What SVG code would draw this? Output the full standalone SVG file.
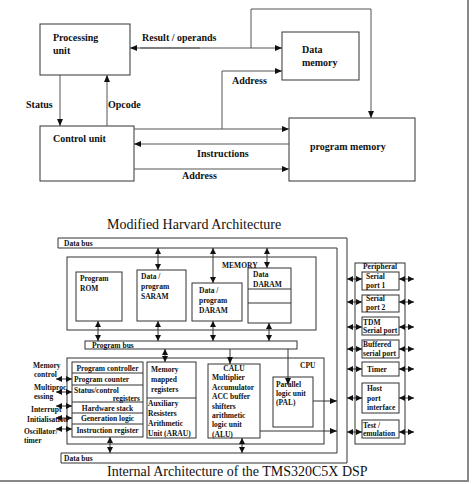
<svg xmlns="http://www.w3.org/2000/svg" width="472" height="484" viewBox="0 0 472 484">
<style>
.box{fill:#fff;stroke:#333;stroke-width:1}
.nb{fill:none;stroke:#333;stroke-width:1}
.ln{fill:none;stroke:#555;stroke-width:1}
.t{font-family:"Liberation Serif",serif;font-weight:bold;font-size:10px;fill:#111}
.s{font-family:"Liberation Serif",serif;font-weight:bold;font-size:7.5px;fill:#111}
.ttl{font-family:"Liberation Serif",serif;font-size:14px;fill:#111}
.a{marker-end:url(#ah)}
.d{marker-start:url(#sh);marker-end:url(#sh)}
</style>
<defs>
<marker id="ah" markerUnits="userSpaceOnUse" markerWidth="7" markerHeight="6" refX="7" refY="3" orient="auto"><path d="M0,0 L7,3 L0,6 z" fill="#111"/></marker>
<marker id="sh" markerUnits="userSpaceOnUse" markerWidth="6" markerHeight="6" refX="6" refY="3" orient="auto-start-reverse"><path d="M0,0 L6,3 L0,6 z" fill="#111"/></marker>
</defs>
<rect width="472" height="484" fill="#fff"/>
<path d="M468,0 V481 H0" fill="none" stroke="#888" stroke-width="2"/>

<!-- Top diagram -->
<g id="processing-unit"><rect class="box" x="40" y="24" width="90" height="51"/><text class="t" x="53" y="41">Processing</text><text class="t" x="53" y="54">unit</text></g>
<g id="data-memory"><rect class="box" x="282" y="32" width="77" height="48"/><text class="t" x="302" y="53">Data</text><text class="t" x="302" y="66">memory</text></g>
<g id="control-unit"><rect class="box" x="40" y="126" width="94" height="55"/><text class="t" x="53" y="142">Control unit</text></g>
<g id="program-memory"><rect class="box" x="289" y="118" width="126" height="63"/><text class="t" x="310" y="150">program memory</text></g>

<g id="top-connectors">
<line class="ln a" x1="140" y1="48" x2="282" y2="48"/>
<line class="ln a" x1="200" y1="48" x2="130" y2="48"/>
<path class="ln a" d="M251,48 V9 H371 V118"/>
<path class="ln a" d="M222,129 V71 H282"/>
<line class="ln a" x1="134" y1="129" x2="289" y2="129"/>
<line class="ln a" x1="289" y1="144" x2="134" y2="144"/>
<line class="ln a" x1="134" y1="169" x2="289" y2="169"/>
<line class="ln a" x1="60" y1="75" x2="60" y2="126"/>
<line class="ln a" x1="107" y1="126" x2="107" y2="75"/>
<text class="t" x="142" y="41">Result / operands</text>
<text class="t" x="232" y="84">Address</text>
<text class="t" x="197" y="157">Instructions</text>
<text class="t" x="182" y="179">Address</text>
<text class="t" x="26" y="108">Status</text>
<text class="t" x="108" y="108">Opcode</text>
</g>

<text class="ttl" x="107" y="229">Modified Harvard Architecture</text>

<!-- Lower diagram -->
<g id="data-bus"><path class="box" d="M58,238 H347 V463 H61 V453 H337 V248 H58 Z"/><text class="s" x="64" y="246">Data bus</text><text class="s" x="64" y="461">Data bus</text></g>

<g id="memory"><rect class="box" x="67" y="257" width="249" height="73"/><text class="s" x="222" y="268">MEMORY</text></g>
<g id="program-rom"><rect class="box" x="76" y="272" width="46" height="49"/><text class="s" x="80" y="281">Program</text><text class="s" x="80" y="291">ROM</text></g>
<g id="saram"><rect class="box" x="137" y="270" width="49" height="51"/><text class="s" x="141" y="279">Data /</text><text class="s" x="141" y="289">program</text><text class="s" x="141" y="299">SARAM</text></g>
<g id="daram1"><rect class="box" x="192" y="283" width="50" height="38"/><text class="s" x="199" y="293">Data /</text><text class="s" x="199" y="303">program</text><text class="s" x="199" y="313">DARAM</text></g>
<g id="daram2"><rect class="box" x="248" y="268" width="43" height="55"/><line class="nb" x1="248" y1="289" x2="291" y2="289"/><line class="nb" x1="248" y1="303" x2="291" y2="303"/><text class="s" x="253" y="277">Data</text><text class="s" x="253" y="287">DARAM</text></g>

<g id="program-bus"><rect class="box" x="85" y="341" width="212" height="8"/><text class="s" x="92" y="348">Program bus</text></g>

<g id="cpu"><rect class="box" x="67" y="358" width="257" height="86"/><text class="s" x="300" y="368">CPU</text></g>
<g id="control-block"><rect class="box" x="72" y="362" width="71" height="75"/>
<line class="nb" x1="72" y1="373" x2="143" y2="373"/><line class="nb" x1="72" y1="385" x2="143" y2="385"/><line class="nb" x1="72" y1="402" x2="143" y2="402" stroke-width="1.5"/><line class="nb" x1="72" y1="413" x2="143" y2="413"/><line class="nb" x1="72" y1="424" x2="143" y2="424"/>
<text class="s" x="107.5" y="371" text-anchor="middle">Program controller</text>
<text class="s" x="74" y="382">Program counter</text>
<text class="s" x="74" y="393">Status/control</text>
<text class="s" x="140" y="401" text-anchor="end">registers</text>
<text class="s" x="107.5" y="411" text-anchor="middle">Hardware stack</text>
<text class="s" x="107.5" y="421" text-anchor="middle">Generation logic</text>
<text class="s" x="107.5" y="433" text-anchor="middle">Instruction register</text>
</g>
<g id="arau"><rect class="box" x="147" y="362" width="49" height="76"/><line class="nb" x1="147" y1="398" x2="196" y2="398"/>
<text class="s" x="151" y="372">Memory</text><text class="s" x="151" y="382">mapped</text><text class="s" x="151" y="392">registers</text>
<text class="s" x="148" y="406">Auxiliary</text><text class="s" x="148" y="416">Resisters</text><text class="s" x="148" y="426">Arithmetic</text><text class="s" x="148" y="436">Unit (ARAU)</text></g>
<g id="calu"><rect class="box" x="208" y="364" width="52" height="74"/>
<text class="s" x="234" y="371" text-anchor="middle">CALU</text><text class="s" x="212" y="380">Multiplier</text><text class="s" x="212" y="390">Accumulator</text><text class="s" x="212" y="399">ACC buffer</text><text class="s" x="212" y="409">shifters</text><text class="s" x="212" y="418">arithmetic</text><text class="s" x="212" y="427">logic unit</text><text class="s" x="212" y="437">(ALU)</text></g>
<g id="pal"><rect class="box" x="273" y="377" width="40" height="50"/><text class="s" x="276" y="387">Parallel</text><text class="s" x="276" y="396">logic unit</text><text class="s" x="276" y="405">(PAL)</text></g>

<g id="peripheral"><rect class="box" x="355" y="263" width="50" height="181"/><text class="s" x="363" y="269">Peripheral</text></g>
<g id="sp1"><rect class="box" x="362" y="272" width="37" height="18"/><text class="s" x="366" y="279">Serial</text><text class="s" x="366" y="288">port 1</text></g>
<g id="sp2"><rect class="box" x="362" y="295" width="37" height="17"/><text class="s" x="366" y="301">Serial</text><text class="s" x="366" y="310">port 2</text></g>
<g id="tdm"><rect class="box" x="362" y="317" width="37" height="18"/><text class="s" x="363" y="325">TDM</text><text class="s" x="363" y="333">Serial port</text></g>
<g id="bsp"><rect class="box" x="362" y="340" width="37" height="18"/><text class="s" x="363" y="347">Buffered</text><text class="s" x="363" y="356">serial port</text></g>
<g id="timer"><rect class="box" x="362" y="362" width="37" height="14"/><text class="s" x="367" y="372">Timer</text></g>
<g id="hpi"><rect class="box" x="362" y="383" width="37" height="30"/><text class="s" x="367" y="391">Host</text><text class="s" x="367" y="401">port</text><text class="s" x="367" y="410">interface</text></g>
<g id="test"><rect class="box" x="362" y="420" width="37" height="18"/><text class="s" x="363" y="428">Test /</text><text class="s" x="363" y="436">emulation</text></g>

<g id="side-labels">
<text class="s" x="33" y="368">Memory</text><text class="s" x="34" y="377">control</text>
<text class="s" x="34" y="390">Multiproc</text><text class="s" x="34" y="399">essing</text>
<text class="s" x="31" y="412">Interrupt</text>
<text class="s" x="27" y="422">Initialisation</text>
<text class="s" x="24" y="434">Oscillator/</text><text class="s" x="24" y="443">timer</text>
</g>

<g id="lower-connectors">
<line class="nb d" x1="158" y1="248" x2="158" y2="270"/>
<line class="nb d" x1="213" y1="248" x2="213" y2="283"/>
<line class="nb d" x1="267" y1="248" x2="267" y2="268"/>
<line class="nb d" x1="98" y1="321" x2="98" y2="341"/>
<line class="nb d" x1="158" y1="321" x2="158" y2="341"/>
<line class="nb d" x1="213" y1="321" x2="213" y2="341"/>
<line class="nb d" x1="269" y1="323" x2="269" y2="341"/>
<line class="nb d" x1="165" y1="349" x2="165" y2="362"/>
<line class="nb a" x1="230" y1="349" x2="230" y2="364"/>
<line class="nb a" x1="288" y1="349" x2="288" y2="385"/>
<line class="nb a" x1="313" y1="401" x2="337" y2="401"/>
<line class="nb a" x1="260" y1="431" x2="337" y2="431"/>
<line class="nb d" x1="242" y1="438" x2="242" y2="453"/>
<line class="nb d" x1="110" y1="437" x2="110" y2="453"/>
<line class="nb d" x1="56" y1="379" x2="72" y2="379"/>
<line class="nb d" x1="56" y1="392" x2="72" y2="392"/>
<line class="nb d" x1="56" y1="406" x2="72" y2="406"/>
<line class="nb d" x1="56" y1="418" x2="72" y2="418"/>
<line class="nb d" x1="56" y1="429" x2="72" y2="429"/>
<line class="nb d" x1="347" y1="279" x2="362" y2="279"/>
<line class="nb d" x1="347" y1="302" x2="362" y2="302"/>
<line class="nb d" x1="347" y1="327" x2="362" y2="327"/>
<line class="nb d" x1="347" y1="349" x2="362" y2="349"/>
<line class="nb d" x1="347" y1="369" x2="362" y2="369"/>
<line class="nb d" x1="347" y1="398" x2="362" y2="398"/>
<line class="nb d" x1="347" y1="432" x2="362" y2="432"/>
<line class="nb d" x1="399" y1="279" x2="414" y2="279"/>
<line class="nb d" x1="399" y1="302" x2="414" y2="302"/>
<line class="nb d" x1="399" y1="327" x2="414" y2="327"/>
<line class="nb d" x1="399" y1="349" x2="414" y2="349"/>
<line class="nb d" x1="399" y1="369" x2="414" y2="369"/>
<line class="nb d" x1="399" y1="398" x2="414" y2="398"/>
<line class="nb d" x1="399" y1="432" x2="414" y2="432"/>
</g>

<text class="ttl" x="107" y="476" font-size="13">Internal Architecture of the TMS320C5X DSP</text>
</svg>
